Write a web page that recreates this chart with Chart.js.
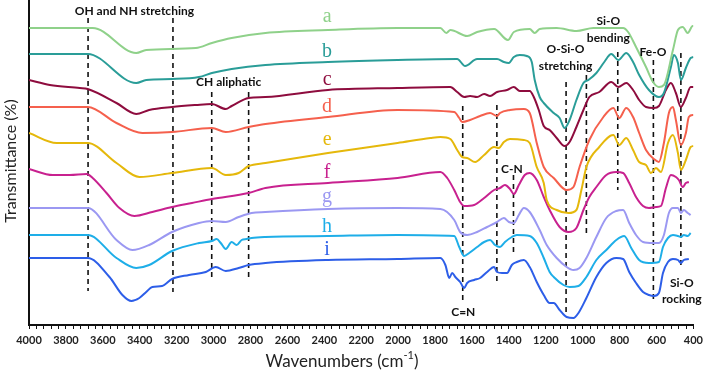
<!DOCTYPE html>
<html><head><meta charset="utf-8">
<script src="https://cdn.jsdelivr.net/npm/chart.js@4.4.1/dist/chart.umd.min.js"></script>
<style>html,body{margin:0;padding:0;background:#fff}#wrap{width:708px;height:374px;position:relative}</style>
</head><body><div id="wrap"><canvas id="c"></canvas></div>
<script>
// Wavenumbers (cm-1) and relative transmittance (offset spectra)
const waveA=[4000,3655,3419,3365,3096,3009,2902,2719,2380,2003,1771,1739,1717,1626,1572,1480,1405,1373,1287,1260,1233,1141,1034,942,781,754,711,657,619,587,560,511,484,458,431,404,400];
const transA=[297,297,272,275,277,282,287,292,295,297,297,292,295,289,293,296,285,293,296,292,296,297,294,297,297,293,278,258,243,238,240,275,295,298,292,299,299];
const waveB=[4000,3682,3419,3365,3225,3079,3009,2902,2719,2380,2003,1680,1637,1572,1464,1427,1400,1373,1341,1303,1276,1260,1233,1211,1157,1125,1098,1071,1034,996,969,926,883,845,807,764,727,694,641,587,560,522,506,484,468,441,415,400];
const transB=[271,271,242,245,246,248,252,256,260,263,265,266,259,266,266,263,262,268,270,269,263,245,228,222,212,207,197,205,225,242,245,252,263,271,265,272,263,250,235,228,232,258,270,262,245,257,267,268];
const waveC=[4000,3887,3725,3682,3526,3419,3349,3225,3096,3009,2934,2902,2810,2719,2380,2003,1717,1680,1642,1610,1572,1534,1502,1464,1410,1373,1341,1287,1265,1238,1211,1179,1141,1098,1071,1034,996,964,910,845,807,764,727,694,657,614,587,549,522,495,468,441,415,400];
const transC=[245,240,237,236,222,211,215,218,220,221,216,219,227,228,235,237,238,233,228,229,228,231,229,233,235,238,234,234,228,215,199,195,187,179,183,198,215,228,233,243,238,242,235,225,218,217,219,235,242,232,218,227,238,238];
const waveD=[4000,3682,3526,3386,3225,3009,2934,2810,2719,2380,2003,1696,1669,1653,1610,1556,1502,1464,1448,1394,1319,1287,1249,1211,1157,1087,1050,1017,964,888,834,802,764,727,694,657,614,587,560,533,511,495,468,441,425,404,400];
const transD=[218,218,202,192,193,197,193,198,201,208,215,213,207,203,205,209,212,209,212,215,216,212,182,158,147,135,138,158,185,208,217,207,217,208,192,175,166,163,182,212,218,205,180,192,208,210,210];
const waveE=[4000,3850,3682,3526,3402,3225,3009,2934,2864,2810,2719,2380,2003,1825,1771,1717,1680,1653,1626,1583,1534,1480,1454,1427,1394,1319,1287,1249,1211,1195,1141,1077,1034,1007,980,910,834,802,764,727,694,657,630,603,576,538,511,484,468,441,415,400];
const transE=[192,182,182,162,148,152,157,150,152,159,162,172,182,187,188,186,175,168,167,163,170,178,177,183,186,185,182,158,142,125,115,112,115,135,158,178,190,180,187,175,163,160,152,157,153,182,190,172,155,165,178,179];
const waveF=[4000,3871,3779,3688,3655,3580,3510,3429,3332,3225,3117,3009,2810,2719,2380,2003,1771,1734,1696,1664,1642,1588,1534,1480,1448,1421,1394,1373,1346,1314,1287,1249,1211,1179,1125,1077,1034,996,964,926,872,818,781,748,711,673,641,603,576,549,522,495,479,458,441,425];
const transF=[156,150,150,151,147,132,117,109,113,118,122,126,132,137,142,147,153,147,135,123,119,120,127,135,137,140,136,131,140,150,152,145,128,115,98,93,97,115,128,138,150,153,152,142,128,119,117,118,119,137,150,148,145,138,142,143];
const waveG=[4000,3682,3526,3440,3349,3225,3079,3009,2934,2864,2794,2719,2380,2003,1771,1696,1664,1626,1572,1518,1464,1427,1400,1373,1346,1319,1287,1233,1195,1141,1087,1050,1017,980,926,872,818,781,748,711,673,619,587,560,533,511,484,468,452,431,415];
const transG=[117,117,85,75,80,93,102,104,103,108,112,113,116,117,116,105,93,90,93,98,103,107,103,102,110,117,113,95,80,67,58,55,57,67,88,107,114,115,102,90,83,82,82,90,112,117,117,112,115,112,110];
const waveH=[4000,3682,3526,3419,3349,3225,3079,3009,2983,2961,2934,2902,2875,2848,2821,2794,2719,2380,2003,1696,1669,1642,1615,1572,1534,1502,1475,1448,1421,1384,1357,1287,1249,1211,1179,1157,1104,1071,1023,980,926,872,818,775,737,694,641,587,565,538,511,484,468,452,431,415];
const transH=[90,90,67,57,60,74,82,84,86,82,76,83,80,85,86,87,88,89,90,89,78,69,72,78,83,85,80,78,83,88,90,89,82,67,53,48,40,38,39,48,65,75,85,89,77,65,62,63,78,87,90,89,88,90,89,92];
const waveI=[4000,3682,3564,3494,3445,3402,3365,3332,3279,3225,3133,3042,2988,2934,2864,2810,2719,2380,2003,1771,1744,1723,1707,1690,1664,1642,1626,1588,1556,1518,1480,1464,1437,1410,1384,1357,1319,1287,1249,1211,1179,1157,1125,1087,1050,1023,980,926,872,818,781,748,711,673,641,614,587,565,538,511,484,468,452,425];
const transI=[67,67,48,30,24,27,33,38,39,46,50,53,58,54,57,60,62,65,66,67,60,47,52,48,43,37,42,45,47,53,58,53,52,52,60,63,65,58,43,30,22,22,15,8,7,12,27,48,62,67,66,53,42,33,30,29,32,52,63,66,65,62,65,66];

const seriesNames=['a','b','c','d','e','f','g','h','i'];
const seriesColors=['#8fd18a','#2a9d98','#8e0c3e','#f5604d','#e5b80b','#c8218f','#9b98f2','#1eaee8','#2d5ee8'];
const seriesWaves=[waveA,waveB,waveC,waveD,waveE,waveF,waveG,waveH,waveI];
const seriesTrans=[transA,transB,transC,transD,transE,transF,transG,transH,transI];
const letterWave=2385;
const letterLevel=[308,273,245,218,185,152,128,98,75];

// dashed band markers
const markerWave=[3680,3220,3010,2810,1650,1465,1375,1090,980,810,617,468];
const markerTop=[307,307,233,233,219,220,150,243,250,273,265,272];
const markerBottom=[34,33,45,45,22,42,73,8,92,135,25,56];

// assignment notes
const noteText=['OH and NH stretching','CH aliphatic','C=N','C-N','O-Si-O','stretching','Si-O','bending','Fe-O','Si-O','rocking'];
const noteWave=[3429,2918,1647,1384,1093,1093,861,861,619,463,463];
const noteLevel=[314,243,13,156,276,259,304,287,273,42,26];

const xTickLabels=[4000,3800,3600,3400,3200,3000,2800,2600,2400,2200,2000,1800,1600,1400,1200,1000,800,600,400];

const datasets=[];
seriesNames.forEach((n,k)=>{
  datasets.push({label:n,data:seriesWaves[k].map((w,j)=>({x:w,y:seriesTrans[k][j]})),
    borderColor:seriesColors[k],borderWidth:2,pointRadius:0,fill:false,cubicInterpolationMode:'monotone'});
});
markerWave.forEach((w,k)=>{
  datasets.push({label:'m'+k,data:[{x:w,y:markerTop[k]},{x:w,y:markerBottom[k]}],
    borderColor:'#111',borderWidth:1.6,borderDash:[5,4],pointRadius:0,fill:false});
});

const textPlugin={id:'texts',afterDraw(chart){
  const ctx=chart.ctx, xs=chart.scales.x, ys=chart.scales.y;
  ctx.save();
  ctx.textAlign='center';ctx.textBaseline='middle';
  ctx.font='20px "Liberation Serif"';
  seriesNames.forEach((n,k)=>{ctx.fillStyle=seriesColors[k];ctx.fillText(n,xs.getPixelForValue(letterWave),ys.getPixelForValue(letterLevel[k]));});
  ctx.fillStyle='#111';ctx.font='bold 12px Lato';
  noteText.forEach((t,k)=>{ctx.fillText(t,xs.getPixelForValue(noteWave[k]),ys.getPixelForValue(noteLevel[k]));});
  // y title
  ctx.font='16px Lato';ctx.fillStyle='#222';
  ctx.translate(11,161);ctx.rotate(-Math.PI/2);ctx.fillText('Transmittance (%)',0,0);
  ctx.setTransform(1,0,0,1,0,0);
  // x title with superscript
  const main='Wavenumbers (cm', sup='-1', end=')';
  ctx.font='17px Lato';const w1=ctx.measureText(main).width, w3=ctx.measureText(end).width;
  ctx.font='11px Lato';const w2=ctx.measureText(sup).width;
  let x0=342-(w1+w2+w3)/2;ctx.textAlign='left';ctx.textBaseline='alphabetic';
  ctx.font='17px Lato';ctx.fillText(main,x0,367);
  ctx.font='11px Lato';ctx.fillText(sup,x0+w1,359);
  ctx.font='17px Lato';ctx.fillText(end,x0+w1+w2,367);
  ctx.restore();
}};

new Chart(document.getElementById('c'),{type:'line',data:{datasets},
  options:{responsive:true,maintainAspectRatio:false,animation:false,devicePixelRatio:1,
    layout:{padding:{top:0,right:10,left:0,bottom:0}},
    plugins:{legend:{display:false},tooltip:{enabled:false}},
    scales:{
      x:{type:'linear',min:400,max:4000,reverse:true,
        afterFit(s){s.height=49;},
        border:{display:true,color:'#111',width:2},
        grid:{display:true,drawOnChartArea:false,drawTicks:true,tickLength:4,color:'#111',lineWidth:1},
        ticks:{stepSize:40,autoSkip:false,maxTicksLimit:1000,maxRotation:0,padding:5,color:'#222',
          font:{family:'Lato',weight:'bold',size:11},
          callback:(v)=>xTickLabels.includes(v)?String(v):''}},
      y:{type:'linear',min:0,max:325,
        afterFit(s){s.width=29;},
        border:{display:true,color:'#111',width:2},
        grid:{display:false,drawTicks:false},ticks:{display:false}}
    }},
  plugins:[textPlugin]});
</script></body></html>
